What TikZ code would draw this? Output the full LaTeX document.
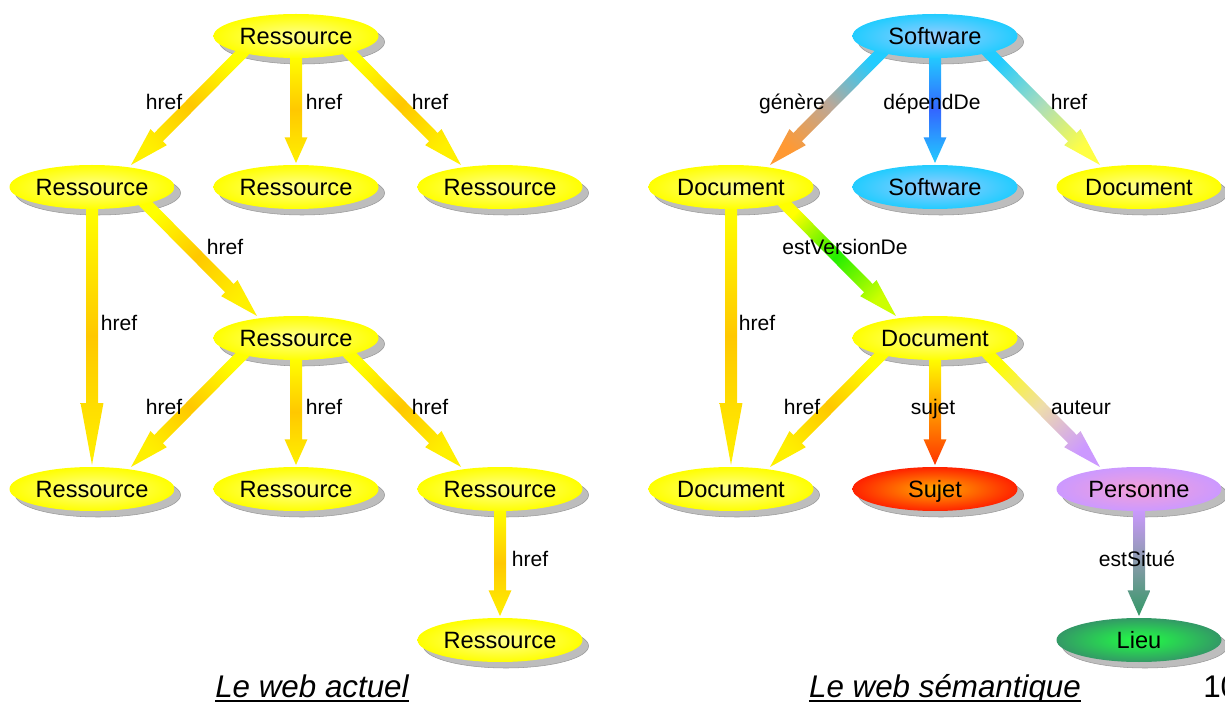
\documentclass[tikz,border=0pt]{standalone}
\usepackage{fontspec}
\setmainfont{Liberation Sans}
\usetikzlibrary{shapes.geometric,calc}
\pgfdeclarelayer{bg}
\pgfsetlayers{bg,main}

% arrow colours
\definecolor{aY1}{HTML}{FFFF00}
\definecolor{aY2}{HTML}{FFC800}
\definecolor{aY3}{HTML}{FFF000}
\definecolor{aC1}{HTML}{22CCFF}
\definecolor{aGen2}{HTML}{BBA898}
\definecolor{aGen3}{HTML}{FF9933}
\definecolor{aDep2}{HTML}{3366FF}
\definecolor{aHr2}{HTML}{AADDBB}
\definecolor{aHr3}{HTML}{FFFF44}
\definecolor{aEv2}{HTML}{22EE00}
\definecolor{aEv3}{HTML}{CCFF00}
\definecolor{aSu2}{HTML}{FF9900}
\definecolor{aSu3}{HTML}{FF3300}
\definecolor{aAu2}{HTML}{EEDDAA}
\definecolor{aAu3}{HTML}{CC99FF}
\definecolor{aEs2}{HTML}{889AAA}
\definecolor{aEs3}{HTML}{339966}
% ellipse colours
\definecolor{eYin}{HTML}{FFFF90}
\definecolor{eYout}{HTML}{FFFF00}
\definecolor{eBin}{HTML}{99CCFF}
\definecolor{eBout}{HTML}{22CCFF}
\definecolor{eRin}{HTML}{FFAA00}
\definecolor{eRout}{HTML}{FF2200}
\definecolor{ePin}{HTML}{F4A0D8}
\definecolor{ePout}{HTML}{CC99FF}
\definecolor{eGin}{HTML}{22FF44}
\definecolor{eGout}{HTML}{339966}
\definecolor{shadowc}{HTML}{BDBDBD}
\definecolor{shadowd}{HTML}{999999}

\newcommand\defshade[4]{\pgfdeclarehorizontalshading{#1}{100bp}{color(0bp)=(#2); color(25bp)=(#2); color(50bp)=(#3); color(75bp)=(#4); color(100bp)=(#4)}}
\defshade{shYel}{aY1}{aY2}{aY3}
\defshade{shGen}{aC1}{aGen2}{aGen3}
\defshade{shDep}{aC1}{aDep2}{aC1}
\defshade{shHrS}{aC1}{aHr2}{aHr3}
\defshade{shEv}{aY1}{aEv2}{aEv3}
\defshade{shSu}{aY1}{aSu2}{aSu3}
\defshade{shAu}{aY1}{aAu2}{aAu3}
\defshade{shEs}{aAu3}{aEs2}{aEs3}

% #1 shading, #2 start coordinate, #3 end coordinate
\newcommand\fatarrow[3]{%
  \path #2; \pgfgetlastxy{\FAax}{\FAay}%
  \path #3; \pgfgetlastxy{\FAbx}{\FAby}%
  \pgfmathsetmacro\FAang{atan2((\FAby)-(\FAay),(\FAbx)-(\FAax))}%
  \pgfmathsetmacro\FAlen{veclen((\FAbx)-(\FAax),(\FAby)-(\FAay))}%
  \pgfmathsetmacro\FAh{0.76*\FAlen}%
  \shade[shading=#1,shading angle=\FAang,shift={(\FAax,\FAay)},rotate=\FAang]
    (0pt,-4.5pt) -- (\FAh pt,-4.5pt) -- (\FAh pt,-8.6pt) -- (\FAlen pt,0pt)
    -- (\FAh pt,8.6pt) -- (\FAh pt,4.5pt) -- (0pt,4.5pt) -- cycle;
}

\tikzset{
  ellbase/.style={ellipse, minimum width=123.75pt, minimum height=33pt, inner sep=0pt,
    text height=12.7pt, text depth=0pt,
    font=\fontsize{17.7}{20}\selectfont},
  ellY/.style={ellbase, inner color=eYin, outer color=eYout},
  ellB/.style={ellbase, inner color=eBin, outer color=eBout},
  ellR/.style={ellbase, inner color=eRin, outer color=eRout},
  ellP/.style={ellbase, inner color=ePin, outer color=ePout},
  ellG/.style={ellbase, inner color=eGin, outer color=eGout},
  lbl/.style={font=\fontsize{15.8}{18}\selectfont, inner sep=0pt, text height=11.3pt, text depth=0pt},
  captxt/.style={font=\fontsize{23.5}{28}\selectfont\itshape, inner sep=0pt, anchor=base},
}

\begin{document}
\begin{tikzpicture}[x=0.75pt,y=-0.75pt]
\useasboundingbox (0,0) rectangle (1225,702);

% ---- left graph ----
\node[ellY] (R0) at (296,36) {Ressource};
\node[ellY] (R1) at (92,187) {Ressource};
\node[ellY] (R2) at (296,187) {Ressource};
\node[ellY] (R3) at (500,187) {Ressource};
\node[ellY] (R4) at (296,338) {Ressource};
\node[ellY] (R5) at (92,489) {Ressource};
\node[ellY] (R6) at (296,489) {Ressource};
\node[ellY] (R7) at (500,489) {Ressource};
\node[ellY] (R8) at (500,640) {Ressource};

% ---- right graph ----
\node[ellB] (S0) at (935,36) {Software};
\node[ellY] (D1) at (731,187) {Document};
\node[ellB] (S1) at (935,187) {Software};
\node[ellY] (D2) at (1139,187) {Document};
\node[ellY] (D3) at (935,338) {Document};
\node[ellY] (D4) at (731,489) {Document};
\node[ellR] (Su) at (935,489) {Sujet};
\node[ellP] (Pe) at (1139,489) {Personne};
\node[ellG] (Li) at (1139,640) {Lieu};

\begin{pgfonlayer}{bg}
  \foreach \n in {R0,R1,R2,R3,R4,R5,R6,R7,R8,S0,D1,S1,D2,D3,D4,Su,Pe,Li}
    \filldraw[fill=shadowc, draw=shadowd, line width=0.4pt] ($(\n)+(6,6)$) ellipse [x radius=61.9pt, y radius=16.5pt];

  % left arrows
  \fatarrow{shYel}{($(R0)+(-50,13)$)}{($(R1)+(39,-22)$)}
  \fatarrow{shYel}{($(R0)+(0,20)$)}{($(R2)+(0,-24)$)}
  \fatarrow{shYel}{($(R0)+(50,13)$)}{($(R3)+(-39,-22)$)}
  \fatarrow{shYel}{($(R1)+(0,20)$)}{($(R5)+(0,-24)$)}
  \fatarrow{shYel}{($(R1)+(50,13)$)}{($(R4)+(-39,-22)$)}
  \fatarrow{shYel}{($(R4)+(-50,13)$)}{($(R5)+(39,-22)$)}
  \fatarrow{shYel}{($(R4)+(0,20)$)}{($(R6)+(0,-24)$)}
  \fatarrow{shYel}{($(R4)+(50,13)$)}{($(R7)+(-39,-22)$)}
  \fatarrow{shYel}{($(R7)+(0,20)$)}{($(R8)+(0,-24)$)}

  % right arrows
  \fatarrow{shGen}{($(S0)+(-50,13)$)}{($(D1)+(39,-22)$)}
  \fatarrow{shDep}{($(S0)+(0,20)$)}{($(S1)+(0,-24)$)}
  \fatarrow{shHrS}{($(S0)+(50,13)$)}{($(D2)+(-39,-22)$)}
  \fatarrow{shYel}{($(D1)+(0,20)$)}{($(D4)+(0,-24)$)}
  \fatarrow{shEv}{($(D1)+(50,13)$)}{($(D3)+(-39,-22)$)}
  \fatarrow{shYel}{($(D3)+(-50,13)$)}{($(D4)+(39,-22)$)}
  \fatarrow{shSu}{($(D3)+(0,20)$)}{($(Su)+(0,-24)$)}
  \fatarrow{shAu}{($(D3)+(50,13)$)}{($(Pe)+(-39,-22)$)}
  \fatarrow{shEs}{($(Pe)+(0,20)$)}{($(Li)+(0,-24)$)}
\end{pgfonlayer}

% ---- labels left ----
\node[lbl] (l1) at (164,102) {href};
\node[lbl] (l2) at (324,102) {href};
\node[lbl] (l3) at (430,102) {href};
\node[lbl] (l4) at (225,247) {href};
\node[lbl] (l5) at (119,323) {href};
\node[lbl] (l6) at (164,407) {href};
\node[lbl] (l7) at (324,407) {href};
\node[lbl] (l8) at (430,407) {href};
\node[lbl] (l9) at (530,559) {href};

% ---- labels right ----
\node[lbl] (m1) at (792,102) {génère};
\node[lbl] (m2) at (932,102) {dépendDe};
\node[lbl] (m3) at (1069,102) {href};
\node[lbl] (m4) at (845,247) {estVersionDe};
\node[lbl] (m5) at (757,323) {href};
\node[lbl] (m6) at (802,407) {href};
\node[lbl] (m7) at (933,407) {sujet};
\node[lbl] (m8) at (1081,407) {auteur};
\node[lbl] (m9) at (1137,559) {estSitué};

% ---- captions ----
\node[captxt] (c1) at (312,697) {Le web actuel};
\node[captxt] (c2) at (945,697) {Le web sémantique};
\draw[line width=1.2pt] ([yshift=-3pt]c1.base west) -- ([yshift=-3pt]c1.base east);
\draw[line width=1.2pt] ([yshift=-3pt]c2.base west) -- ([yshift=-3pt]c2.base east);
\node[anchor=base west, inner sep=0pt, font=\fontsize{23.5}{28}\selectfont] (pg) at (1203,697) {10};
\end{tikzpicture}
\end{document}
